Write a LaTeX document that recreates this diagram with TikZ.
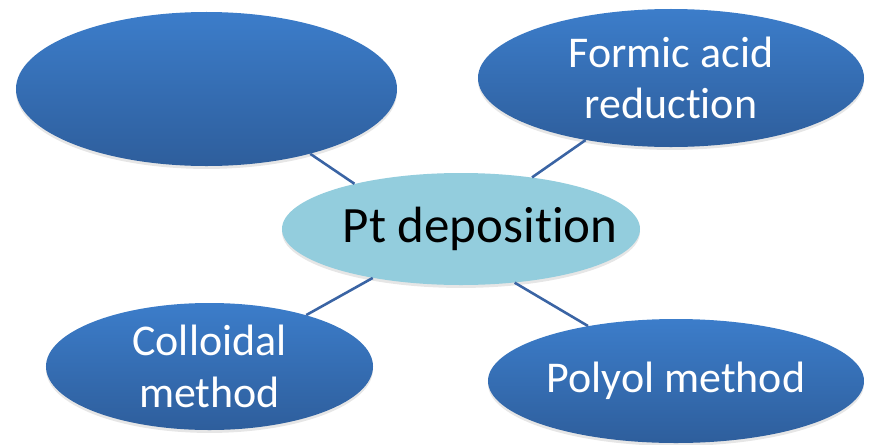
\documentclass[tikz,border=0pt]{standalone}
\usepackage{fontspec}
\setmainfont{Carlito}[Ligatures={NoCommon,NoContextual}]
\usetikzlibrary{shapes.geometric,shadows}
\definecolor{topblue}{HTML}{3C7DCA}
\definecolor{botblue}{HTML}{2E5E9C}
\definecolor{linkblue}{HTML}{3A64A4}
\definecolor{hubblue}{HTML}{93CDDD}
\tikzset{
  method/.style={ellipse, inner sep=0pt, top color=topblue, bottom color=botblue,
    text=white, align=center, font=\fontsize{37.5}{44}\selectfont,
    drop shadow={shadow xshift=0pt, shadow yshift=-2.5pt, opacity=0.2}},
  hub/.style={ellipse, inner xsep=-1cm, inner ysep=0pt, fill=hubblue, text=black,
    font=\fontsize{43.5}{50}\selectfont,
    drop shadow={shadow xshift=0pt, shadow yshift=-2.5pt, opacity=0.2}},
  link/.style={linkblue, line width=2.2pt}
}
\begin{document}
\begin{tikzpicture}[x=0.03cm,y=-0.03cm]
\useasboundingbox (0,0) rectangle (869,444);
\node[method, minimum width=11.43cm, minimum height=4.62cm] (a) at (206.5,89) {};
\node[method, minimum width=11.58cm, minimum height=4.14cm] (b) at (671,78) {Formic acid\\reduct\kern0pt ion};
\node[method, minimum width=9.81cm, minimum height=3.81cm] (c) at (209.5,366.5) {Colloidal\\method};
\node[method, minimum width=11.28cm, minimum height=3.72cm] (d) at (676,381) {Polyol method};
\node[hub, minimum width=10.74cm, minimum height=3.36cm] (pt) at (461,229) {\hspace*{1.14cm}Pt deposit\kern0pt ion};
\draw[link] (a.-32.6) -- (pt.157.2);
\draw[link] (b.216.2) -- (pt.36.2);
\draw[link] (c.28.3) -- (pt.209.2);
\draw[link] (d.148.7) -- (pt.315.5);
\end{tikzpicture}
\end{document}
